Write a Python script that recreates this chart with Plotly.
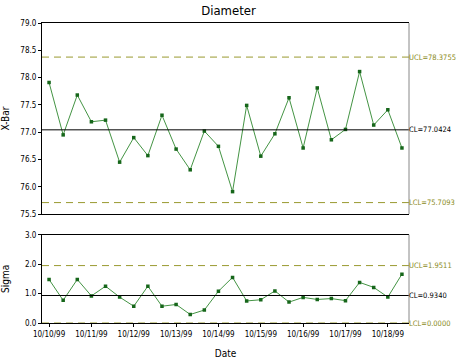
import plotly.graph_objects as go
from plotly.subplots import make_subplots

sample_index = list(range(26))
xbar_values = [77.91, 76.95, 77.68, 77.19, 77.22, 76.45, 76.90, 76.57, 77.31, 76.69,
               76.31, 77.02, 76.74, 75.91, 77.49, 76.56, 76.97, 77.63, 76.71, 77.81,
               76.86, 77.05, 78.11, 77.13, 77.41, 76.71]
sigma_values = [1.48, 0.77, 1.48, 0.92, 1.25, 0.88, 0.57, 1.25, 0.57, 0.63,
                0.29, 0.44, 1.08, 1.55, 0.75, 0.79, 1.09, 0.71, 0.87, 0.80,
                0.83, 0.76, 1.38, 1.21, 0.88, 1.66]
tick_positions = [0, 3, 6, 9, 12, 15, 18, 21, 24]
tick_labels = ["10/10/99", "10/11/99", "10/12/99", "10/13/99", "10/14/99",
               "10/15/99", "10/16/99", "10/17/99", "10/18/99"]
xbar_limits = {"UCL": 78.3755, "CL": 77.0424, "LCL": 75.7093}
sigma_limits = {"UCL": 1.9511, "CL": 0.9340, "LCL": 0.0000}

FONT = "DejaVu Sans Condensed, Liberation Sans Narrow, Liberation Sans, sans-serif"
LINE_C = "#449444"
MARK_C = "#16661a"
OLIVE = "#9a9a30"
OLIVE_TXT = "#8a8a1a"

fig = make_subplots(rows=2, cols=1, shared_xaxes=False, vertical_spacing=0.0)

fig.add_trace(go.Scatter(x=sample_index, y=xbar_values, mode="lines+markers",
                         line=dict(color=LINE_C, width=1),
                         marker=dict(symbol="square", size=3.5, color=MARK_C),
                         showlegend=False), row=1, col=1)
fig.add_trace(go.Scatter(x=sample_index, y=sigma_values, mode="lines+markers",
                         line=dict(color=LINE_C, width=1),
                         marker=dict(symbol="square", size=3.5, color=MARK_C),
                         showlegend=False), row=2, col=1)

for yref, xref, limits in [("y", "x", xbar_limits), ("y2", "x2", sigma_limits)]:
    for name, val in limits.items():
        is_cl = name == "CL"
        fig.add_shape(type="line", xref=xref + " domain", yref=yref, x0=0, x1=1, y0=val, y1=val,
                      line=dict(color="black" if is_cl else OLIVE, width=1,
                                dash="solid" if is_cl else "7px,5px"), layer="above")
        fig.add_annotation(xref=xref + " domain", yref=yref, x=1, y=val, xanchor="left",
                           yanchor="middle", showarrow=False, xshift=-2,
                           text=f"{name}={val:.4f}",
                           font=dict(family=FONT, size=7.5, color="black" if is_cl else OLIVE_TXT))

# grey right border lines
for xref, yref in [("x", "y"), ("x2", "y2")]:
    fig.add_shape(type="line", xref=xref + " domain", yref=yref + " domain",
                  x0=1, x1=1, y0=0, y1=1, line=dict(color="#888888", width=1))

axis_common = dict(showgrid=False, zeroline=False, showline=True, linecolor="black", linewidth=1,
                   ticks="outside", ticklen=3, tickcolor="black", automargin=False,
                   tickfont=dict(family=FONT, size=8, color="black"))

fig.update_xaxes(range=[-0.5, 25.5], mirror=True, showticklabels=False, ticks="",
                 showline=True, linecolor="black", showgrid=False, zeroline=False,
                 automargin=False, domain=[0, 1], row=1, col=1)
fig.update_xaxes(range=[-0.5, 25.5], tickvals=tick_positions, ticktext=tick_labels,
                 tickangle=0, mirror=True, domain=[0, 1],
                 title=dict(text="Date", font=dict(family=FONT, size=10, color="black"), standoff=12),
                 **axis_common, row=2, col=1)
fig.update_yaxes(range=[75.5, 79.0], dtick=0.5, tickformat=".1f", domain=[0.3633, 1.0],
                 title=dict(text="X-Bar", font=dict(family=FONT, size=10, color="black"), standoff=13),
                 **axis_common, row=1, col=1)
fig.update_yaxes(range=[0, 3.0], dtick=1.0, tickformat=".1f", domain=[0, 0.2943],
                 title=dict(text="Sigma", font=dict(family=FONT, size=10, color="black"), standoff=13),
                 **axis_common, row=2, col=1)

fig.update_layout(
    width=457, height=363,
    margin=dict(l=42, r=48, t=23, b=40, autoexpand=False),
    paper_bgcolor="white", plot_bgcolor="white",
    title=dict(text="Diameter", x=0.5, xanchor="center", y=0.972, yanchor="middle",
               font=dict(family=FONT, size=13, color="black")),
)

fig.write_html("out.html", config={"displayModeBar": False},
               post_script="document.body.style.margin='0';document.body.style.overflow='hidden';")
